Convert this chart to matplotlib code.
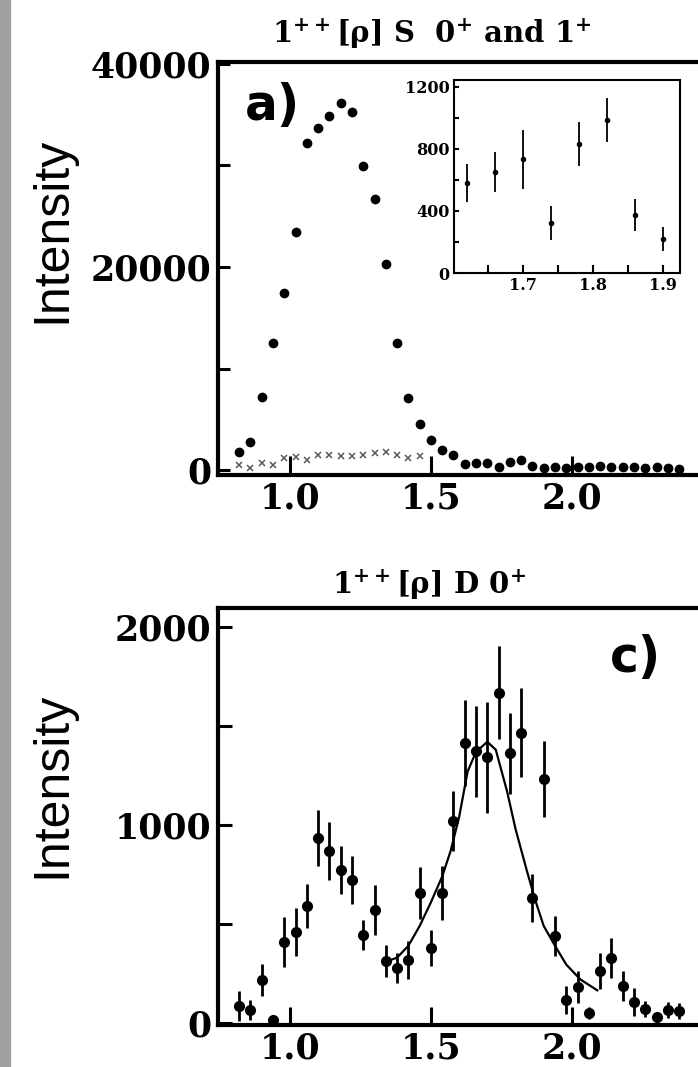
import matplotlib.pyplot as plt
from matplotlib.patches import Rectangle
from matplotlib.ticker import FixedLocator, NullFormatter

plt.rcParams['font.family'] = 'DejaVu Serif'
plt.rcParams['font.weight'] = 'bold'
plt.rcParams['mathtext.fontset'] = 'dejavuserif'

# ---- panel a) 1++[rho] S 0+ and 1+ ----
mass_a = [0.82, 0.86, 0.90, 0.94, 0.98, 1.02, 1.06, 1.10, 1.14, 1.18,
          1.22, 1.26, 1.30, 1.34, 1.38, 1.42, 1.46, 1.50, 1.54, 1.58,
          1.62, 1.66, 1.70, 1.74, 1.78, 1.82, 1.86, 1.90, 1.94, 1.98,
          2.02, 2.06, 2.10, 2.14, 2.18, 2.22, 2.26, 2.30, 2.34, 2.38]
intensity_a = [1770, 2760, 7190, 12500, 17400, 23400, 32200, 33700, 34900, 36200,
               35300, 29900, 26700, 20300, 12500, 7100, 4500, 3000, 1950, 1500,
               580, 650, 735, 320, 830, 990, 370, 220, 250, 200,
               300, 250, 350, 300, 250, 300, 200, 250, 200, 150]

mass_cross = [0.82, 0.86, 0.90, 0.94, 0.98, 1.02, 1.06, 1.10, 1.14,
              1.18, 1.22, 1.26, 1.30, 1.34, 1.38, 1.42, 1.46]
intensity_cross = [500, 200, 700, 500, 1200, 1300, 1000, 1500, 1500,
                   1400, 1400, 1500, 1700, 1800, 1500, 1200, 1400]

# inset zoom of the 1.6 - 1.9 region
mass_inset = [1.62, 1.66, 1.70, 1.74, 1.78, 1.82, 1.86, 1.90]
intensity_inset = [581, 652, 735, 323, 832, 987, 374, 219]
err_inset = [120, 130, 190, 110, 140, 145, 105, 80]

# ---- panel c) 1++[rho] D 0+ ----
mass_c = mass_a
intensity_c = [86, 66, 217, 15, 409, 460, 591, 934, 868, 773,
               722, 445, 571, 314, 278, 318, 657, 379, 657, 1020,
               1414, 1373, 1343, 1667, 1363, 1465, 631, 1232, 440, 118,
               181, 50, 264, 328, 187, 106, 71, 30, 66, 61]
err_c = [75, 50, 80, 15, 125, 120, 110, 140, 145, 120,
         120, 75, 125, 80, 75, 95, 130, 90, 135, 150,
         215, 230, 280, 235, 205, 225, 120, 190, 100, 70,
         80, 30, 90, 100, 75, 70, 40, 20, 40, 40]

# fitted curve
fit_x = [1.34, 1.38, 1.42, 1.46, 1.50, 1.54, 1.57, 1.60, 1.63, 1.66,
         1.70, 1.73, 1.77, 1.80, 1.84, 1.87, 1.90, 1.94, 1.98, 2.03, 2.09]
fit_y = [310, 330, 390, 490, 610, 740, 870, 1040, 1270, 1370,
         1420, 1380, 1170, 980, 770, 620, 490, 390, 295, 220, 165]

W, H = 698, 1067
fig = plt.figure(figsize=(W / 100, H / 100), dpi=100)

# gray strip on the left edge
fig.patches.append(Rectangle((0, 0), 10 / W, 1, transform=fig.transFigure,
                             color='#a0a0a0', zorder=0))


def style_axes(ax, xlen, ylen):
    for side in ['top', 'left', 'bottom']:
        ax.spines[side].set_linewidth(3)
    ax.spines['right'].set_visible(False)
    ax.tick_params(which='both', direction='in', width=2.2, labelsize=25, right=False, top=False)
    ax.tick_params(axis='x', which='both', length=xlen, pad=5)
    ax.tick_params(axis='y', which='both', length=ylen, pad=5)
    ax.xaxis.set_major_locator(FixedLocator([1.0, 1.5, 2.0]))
    ax.set_xticklabels(['1.0', '1.5', '2.0'])
    ax.set_xlim(0.745, 2.447)


# panel a
ax1 = fig.add_axes([218 / W, 1 - 475 / H, 480 / W, 413 / H])
ax1.plot(mass_a, intensity_a, 'o', color='black', ms=6, zorder=3)
ax1.plot(mass_cross, intensity_cross, 'x', color='0.35', ms=5, mew=1.1, zorder=2)
style_axes(ax1, 14, 8.6)
ax1.set_ylim(-490, 40190)
ax1.yaxis.set_major_locator(FixedLocator([0, 20000, 40000]))
ax1.yaxis.set_minor_locator(FixedLocator([10000, 30000]))
ax1.set_yticklabels(['0', '20000', '40000'])
ax1.yaxis.set_minor_formatter(NullFormatter())

# inset
axi = fig.add_axes([454 / W, 1 - 273 / H, 226 / W, 193 / H])
axi.errorbar(mass_inset, intensity_inset, yerr=err_inset, fmt='o', color='black',
             ms=3, elinewidth=1.3, capsize=0)
axi.set_xlim(1.601, 1.924)
axi.set_ylim(0, 1245)
for s in axi.spines.values():
    s.set_linewidth(1.5)
axi.xaxis.set_major_locator(FixedLocator([1.7, 1.8, 1.9]))
axi.xaxis.set_minor_locator(FixedLocator([1.65, 1.75, 1.85]))
axi.set_xticklabels(['1.7', '1.8', '1.9'])
axi.yaxis.set_major_locator(FixedLocator([0, 400, 800, 1200]))
axi.yaxis.set_minor_locator(FixedLocator([200, 600, 1000]))
axi.set_yticklabels(['0', '400', '800', '1200'])
axi.tick_params(which='both', direction='in', width=1.5, labelsize=11.5, pad=3)
axi.tick_params(axis='x', which='both', length=5.5)
axi.tick_params(axis='y', which='both', length=3.5)

# panel c
ax2 = fig.add_axes([218 / W, 1 - 1025 / H, 480 / W, 417 / H])
ax2.errorbar(mass_c, intensity_c, yerr=err_c, fmt='o', color='black',
             ms=7, elinewidth=2, capsize=0, zorder=3)
ax2.plot(fit_x, fit_y, '-', color='black', lw=1.6, zorder=2)
style_axes(ax2, 13, 10)
ax2.set_ylim(-10, 2096)
ax2.yaxis.set_major_locator(FixedLocator([0, 1000, 2000]))
ax2.yaxis.set_minor_locator(FixedLocator([500, 1500]))
ax2.set_yticklabels(['0', '1000', '2000'])
ax2.yaxis.set_minor_formatter(NullFormatter())

# titles
fig.text(272 / W, 1 - 43 / H, r'$\mathbf{1^{++}[\rho]\ S\ \ 0^{+}\ and\ 1^{+}}$',
         fontsize=21, ha='left', va='baseline')
fig.text(332 / W, 1 - 594 / H, r'$\mathbf{1^{++}[\rho]\ D\ 0^{+}}$',
         fontsize=21, ha='left', va='baseline')

# panel letters
fig.text(245 / W, 1 - 120 / H, 'a)', family='DejaVu Sans', weight='heavy',
         fontsize=35, ha='left', va='baseline')
fig.text(610 / W, 1 - 672 / H, 'c)', family='DejaVu Sans', weight='heavy',
         fontsize=35, ha='left', va='baseline')

# y labels
for yc in [230, 785]:
    fig.text(52 / W, 1 - yc / H, 'Intensity', family='Liberation Sans', weight='normal',
             fontsize=36, rotation=90, ha='center', va='center')

fig.savefig('out.png', dpi=100)
